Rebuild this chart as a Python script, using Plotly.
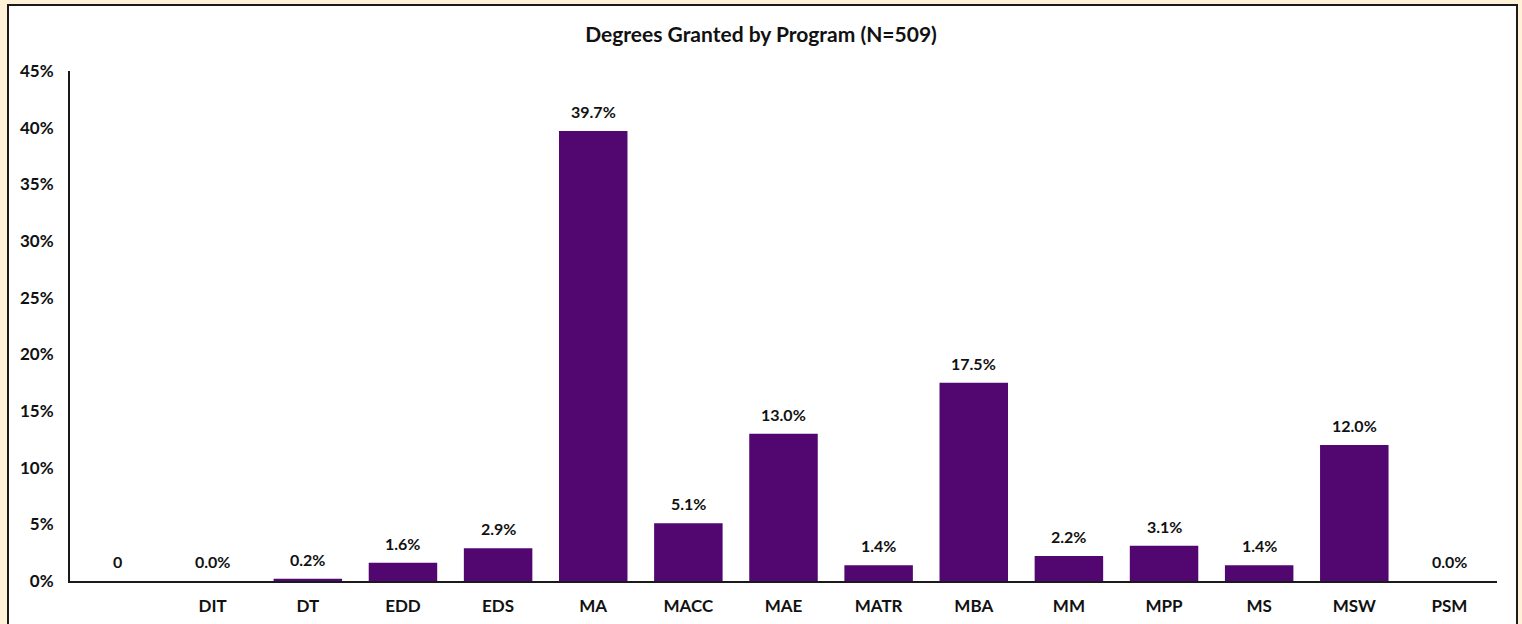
import plotly.graph_objects as go

categories = [" ", "DIT", "DT", "EDD", "EDS", "MA", "MACC", "MAE", "MATR", "MBA", "MM", "MPP", "MS", "MSW", "PSM"]
values = [0.0, 0.0, 0.002, 0.016, 0.029, 0.397, 0.051, 0.130, 0.014, 0.175, 0.022, 0.031, 0.014, 0.120, 0.0]
labels = ["0", "0.0%", "0.2%", "1.6%", "2.9%", "39.7%", "5.1%", "13.0%", "1.4%", "17.5%", "2.2%", "3.1%", "1.4%", "12.0%", "0.0%"]
y_ticks = [0, 0.05, 0.10, 0.15, 0.20, 0.25, 0.30, 0.35, 0.40, 0.45]

W, H = 1522, 624
L, R, T, B = 70, 25, 71, 43
pw, ph = W - L - R, H - T - B
FONT = "Lato, 'Open Sans', sans-serif"

fig = go.Figure()
fig.add_trace(go.Bar(
    x=categories, y=values,
    marker=dict(color="#51076F", line=dict(width=0)),
    hoverinfo="x+y",
))

for c, v, t in zip(categories, values, labels):
    fig.add_annotation(x=c, y=v, text=t, showarrow=False, yanchor="bottom",
                       yshift=8, font=dict(family=FONT, size=16, color="#111111", weight="bold"))

fig.add_shape(type="rect", xref="paper", yref="paper",
              x0=(8 - L) / pw, x1=(1517 - L) / pw,
              y0=(H - B - 640) / ph, y1=(H - B - 5) / ph,
              fillcolor="white", line=dict(color="#1a1a1a", width=2), layer="below")

fig.update_layout(
    width=W, height=H,
    margin=dict(l=L, r=R, t=T, b=B),
    paper_bgcolor="#FFF2D9",
    plot_bgcolor="rgba(0,0,0,0)",
    bargap=0.28,
    showlegend=False,
    title=dict(text="<b>Degrees Granted by Program (N=509)</b>", x=0.5, xanchor="center",
               y=1 - 35 / H, yanchor="middle",
               font=dict(family=FONT, size=21, color="#111111")),
    font=dict(family=FONT, color="#111111"),
)
fig.update_xaxes(
    type="category", showline=True, linecolor="#1a1a1a", linewidth=2,
    showgrid=False, ticks="", ticklabelstandoff=9, automargin=False,
    tickfont=dict(family=FONT, size=17, color="#111111", weight="bold"),
)
fig.update_yaxes(
    range=[0, 0.45], tickvals=y_ticks, tickformat=".0%",
    showline=True, linecolor="#1a1a1a", linewidth=2,
    showgrid=False, zeroline=False, ticks="", ticklabelstandoff=11, automargin=False,
    tickfont=dict(family=FONT, size=17, color="#111111", weight="bold"),
)

fig.write_html("out.html", config={"displayModeBar": False},
               post_script="document.body.style.margin='0';document.body.style.overflow='hidden';")
